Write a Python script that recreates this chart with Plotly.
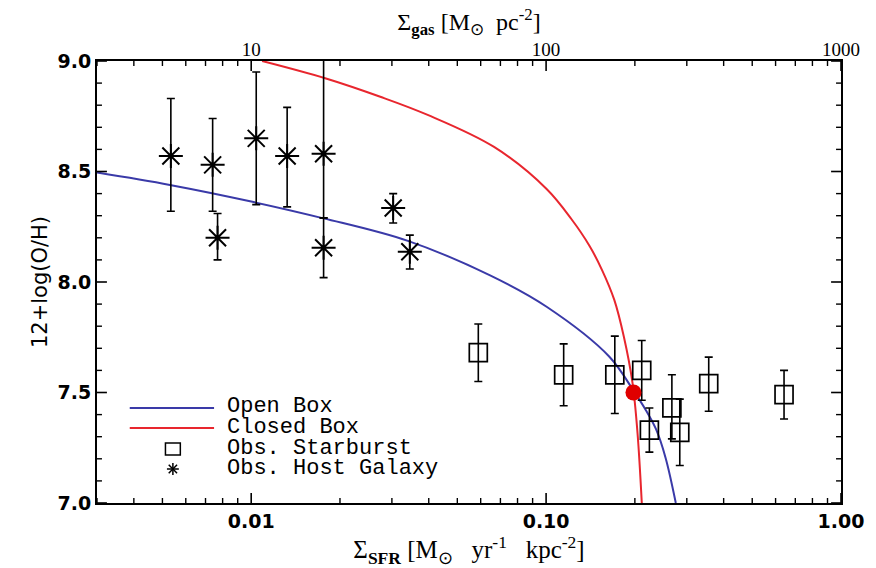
import plotly.graph_objects as go

# ---- data ----
# Model curves (sigma_SFR, 12+log(O/H))
open_box_x = [0.003, 0.0053, 0.0100, 0.01759, 0.03398, 0.06458,
              0.1004, 0.1639, 0.1988, 0.2177, 0.2357, 0.2541, 0.2753]
open_box_y = [8.495, 8.439, 8.364, 8.288, 8.186, 8.030,
              7.888, 7.662, 7.504, 7.421, 7.335, 7.205, 7.0]

closed_box_x = [0.01089, 0.01782, 0.02755, 0.03966, 0.0666, 0.1004, 0.1218,
                0.1404, 0.1548, 0.1703, 0.1836, 0.1964, 0.2042, 0.2111]
closed_box_y = [9.0, 8.922, 8.837, 8.756, 8.611, 8.421, 8.285,
                8.163, 8.054, 7.919, 7.751, 7.542, 7.315, 7.0]

# Observed starbursts (squares)
sb_x = [0.0589, 0.1147, 0.171, 0.211, 0.224, 0.267, 0.284, 0.356, 0.641]
sb_y = [7.68, 7.58, 7.58, 7.60, 7.33, 7.43, 7.32, 7.54, 7.49]
sb_err_up = [0.13, 0.14, 0.175, 0.135, 0.10, 0.15, 0.15, 0.12, 0.11]
sb_err_dn = [0.13, 0.14, 0.175, 0.135, 0.10, 0.14, 0.15, 0.125, 0.11]

# Observed host galaxies (asterisks)
hg_x = [0.00534, 0.0074, 0.00769, 0.0104, 0.01324, 0.0176, 0.0176, 0.0303, 0.0345]
hg_y = [8.57, 8.53, 8.20, 8.65, 8.57, 8.58, 8.155, 8.335, 8.137]
hg_err_up = [0.26, 0.21, 0.11, 0.30, 0.22, 0.45, 0.135, 0.065, 0.075]
hg_err_dn = [0.25, 0.21, 0.10, 0.30, 0.23, 0.29, 0.135, 0.068, 0.078]

# Intersection point
dot_x = [0.1978]
dot_y = [7.50]

# Tick labels / positions
x_tickvals = [0.01, 0.1, 1.0]
x_ticktext = ["0.01", "0.10", "1.00"]
x_minor = [0.003, 0.004, 0.005, 0.006, 0.007, 0.008, 0.009,
           0.02, 0.03, 0.04, 0.05, 0.06, 0.07, 0.08, 0.09,
           0.2, 0.3, 0.4, 0.5, 0.6, 0.7, 0.8, 0.9]
top_tickvals = [10, 100, 1000]
top_ticktext = ["10", "100", "1000"]
top_minor = [3, 4, 5, 6, 7, 8, 9, 20, 30, 40, 50, 60, 70, 80, 90,
             200, 300, 400, 500, 600, 700, 800, 900]
y_tickvals = [7.0, 7.5, 8.0, 8.5, 9.0]
y_ticktext = ["7.0", "7.5", "8.0", "8.5", "9.0"]
y_minor = [7.1, 7.2, 7.3, 7.4, 7.6, 7.7, 7.8, 7.9, 8.1, 8.2, 8.3, 8.4,
           8.6, 8.7, 8.8, 8.9]

legend_labels = ["Open Box", "Closed Box", "Obs. Starburst", "Obs. Host Galaxy"]

BLUE = "#3a3aa8"
RED = "#e8262e"

fig = go.Figure()

fig.add_trace(go.Scatter(x=open_box_x, y=open_box_y, mode="lines",
                         line=dict(color=BLUE, width=2, shape="spline", smoothing=1.0),
                         name=legend_labels[0], showlegend=False))
fig.add_trace(go.Scatter(x=closed_box_x, y=closed_box_y, mode="lines",
                         line=dict(color=RED, width=2, shape="spline", smoothing=1.0),
                         name=legend_labels[1], showlegend=False))

fig.add_trace(go.Scatter(x=sb_x, y=sb_y, mode="markers",
                         marker=dict(symbol="square-open", size=18, color="black",
                                     line=dict(width=1.7, color="black")),
                         error_y=dict(type="data", array=sb_err_up, arrayminus=sb_err_dn,
                                      symmetric=False, color="black", thickness=1.6, width=4),
                         name=legend_labels[2], showlegend=False))
fig.add_trace(go.Scatter(x=hg_x, y=hg_y, mode="markers",
                         marker=dict(symbol="asterisk-open", size=20, color="black",
                                     line=dict(width=2, color="black")),
                         error_y=dict(type="data", array=hg_err_up, arrayminus=hg_err_dn,
                                      symmetric=False, color="black", thickness=1.6, width=4),
                         name=legend_labels[3], showlegend=False))
fig.add_trace(go.Scatter(x=dot_x, y=dot_y, mode="markers",
                         marker=dict(symbol="circle", size=16, color="#e00000"),
                         showlegend=False))

# dummy trace for top axis
fig.add_trace(go.Scatter(x=[3, 1000], y=[None, None], xaxis="x2", yaxis="y",
                         mode="lines", showlegend=False, hoverinfo="skip"))

tick_font = dict(family="DejaVu Sans", size=19, color="black", weight="bold")
serif_font = dict(family="Liberation Serif", size=24, color="black")
NB = "\u00a0"

fig.update_layout(
    width=876, height=568,
    margin=dict(l=97, r=29, t=61, b=65),
    paper_bgcolor="white", plot_bgcolor="white",
    xaxis=dict(type="log", range=[-2.5229, 0.0],
               tickmode="array", tickvals=x_tickvals, ticktext=x_ticktext, ticks="",
               showline=True, linecolor="black", linewidth=2, mirror=True,
               showgrid=False, zeroline=False, tickfont=tick_font,
               title=dict(text="Σ<sub><b>SFR</b></sub>" + NB + "[M<sub>⊙</sub>" + NB * 3 + "yr<sup>-1</sup>" + NB * 3 + "kpc<sup>-2</sup>]",
                          font=dict(family="Liberation Serif", size=25, color="black"), standoff=0)),
    xaxis2=dict(type="log", range=[0.4771, 3.0], overlaying="x", side="top",
                tickmode="array", tickvals=top_tickvals, ticktext=top_ticktext, ticks="",
                showline=False, showgrid=False, zeroline=False,
                tickfont=dict(family="Liberation Serif", size=19, color="black"),
                title=dict(text="Σ<sub><b>gas</b></sub>" + NB + "[M<sub>⊙</sub>" + NB * 2 + "pc<sup>-2</sup>]",
                           font=serif_font, standoff=0)),
    yaxis=dict(range=[7.0, 9.0], tickmode="array", tickvals=y_tickvals, ticktext=y_ticktext,
               ticks="", showline=True, linecolor="black", linewidth=2, mirror=True,
               showgrid=False, zeroline=False, tickfont=tick_font,
               ticksuffix=NB,
               title=dict(text="12+log(O/H)", font=dict(family="DejaVu Sans", size=21, color="black"),
                          standoff=4)),
    showlegend=False,
)

shapes = []

# ---- inside tick marks, placed on the axes' own scales ----
W_PX, H_PX = 750.0, 442.0
MAJ, MIN = 10.0, 5.0
for vals, ln, wd in [(x_tickvals, MAJ, 1.6), (x_minor, MIN, 1.4)]:
    for v in vals:
        shapes.append(dict(type="line", xref="x", yref="paper", x0=v, x1=v,
                           y0=0, y1=ln / H_PX, line=dict(color="black", width=wd)))
for vals, ln, wd in [(top_tickvals, MAJ, 1.6), (top_minor, MIN, 1.4)]:
    for v in vals:
        shapes.append(dict(type="line", xref="x2", yref="paper", x0=v, x1=v,
                           y0=1, y1=1 - ln / H_PX, line=dict(color="black", width=wd)))
for vals, ln, wd in [(y_tickvals, MAJ, 1.6), (y_minor, MIN, 1.4)]:
    for v in vals:
        shapes.append(dict(type="line", xref="paper", yref="y", x0=0, x1=ln / W_PX,
                           y0=v, y1=v, line=dict(color="black", width=wd)))
        shapes.append(dict(type="line", xref="paper", yref="y", x0=1, x1=1 - ln / W_PX,
                           y0=v, y1=v, line=dict(color="black", width=wd)))

# ---- manual legend (paper coordinates) ----
def px2paper(px, py):
    return (px - 97) / W_PX, (503 - py) / H_PX

x0, yb = px2paper(130, 408)
x1, _ = px2paper(215, 408)
shapes.append(dict(type="line", xref="paper", yref="paper", x0=x0, x1=x1, y0=yb, y1=yb,
                   line=dict(color=BLUE, width=2)))
_, yr = px2paper(130, 428)
shapes.append(dict(type="line", xref="paper", yref="paper", x0=x0, x1=x1, y0=yr, y1=yr,
                   line=dict(color=RED, width=2)))
# square symbol
sx0, sy0 = px2paper(166, 455)
sx1, sy1 = px2paper(181, 443)
shapes.append(dict(type="rect", xref="paper", yref="paper", x0=sx0, x1=sx1, y0=sy0, y1=sy1,
                   line=dict(color="black", width=1.5)))
# asterisk symbol
cx, cy = 173.5, 469
r = 6
for dx, dy in [(r, 0), (0, r), (r * 0.7, r * 0.7), (r * 0.7, -r * 0.7)]:
    ax0, ay0 = px2paper(cx - dx, cy - dy)
    ax1, ay1 = px2paper(cx + dx, cy + dy)
    shapes.append(dict(type="line", xref="paper", yref="paper", x0=ax0, x1=ax1, y0=ay0, y1=ay1,
                       line=dict(color="black", width=1.5)))
fig.update_layout(shapes=shapes)

leg_font = dict(family="Liberation Mono", size=22, color="black")
for label, py in zip(legend_labels, [406, 427, 448, 468]):
    lx, ly = px2paper(226, py)
    fig.add_annotation(x=lx, y=ly, xref="paper", yref="paper", text=label, showarrow=False,
                       xanchor="left", yanchor="middle", font=leg_font)

fig.write_html("out.html")
